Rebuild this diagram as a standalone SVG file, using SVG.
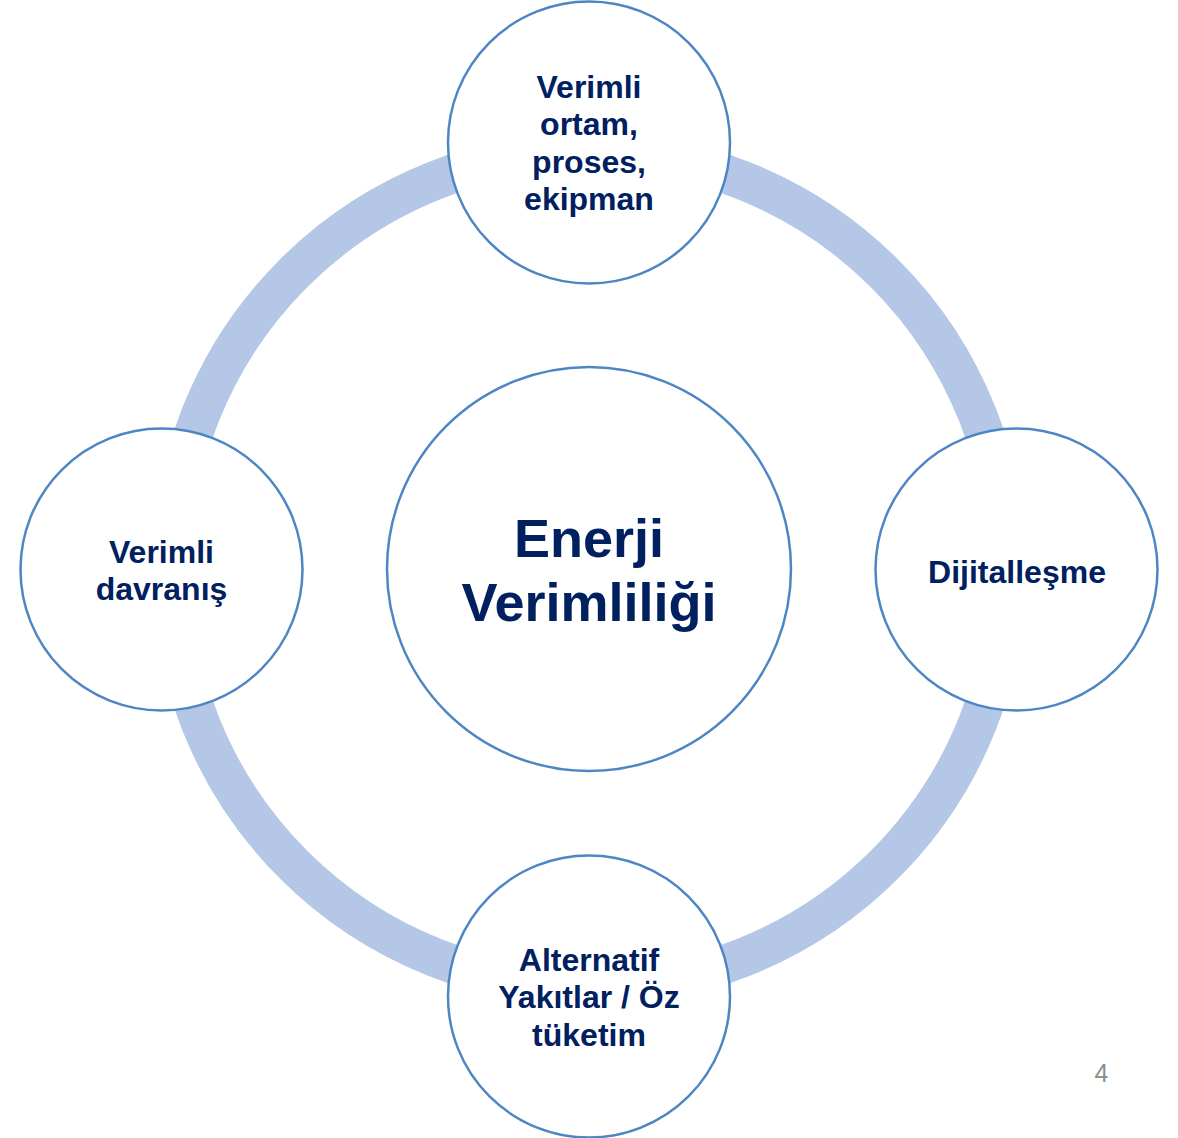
<svg xmlns="http://www.w3.org/2000/svg" width="1178" height="1138" viewBox="0 0 1178 1138">
<style>
.node{fill:#ffffff;stroke:#4d86c3;stroke-width:2.5}
.t{font-family:"Liberation Sans",Arial,sans-serif;font-weight:bold;fill:#002060;text-anchor:middle}
.s{font-size:32px}
.big{font-size:54px}
.pg{font-family:"Liberation Sans",Arial,sans-serif;font-size:25px;fill:#8c8c8c;text-anchor:middle}
</style>
<rect width="1178" height="1138" fill="#ffffff"/>
<g id="connectors">
<circle cx="589" cy="569" r="418" fill="none" stroke="#b4c7e7" stroke-width="39"/>
</g>
<g id="center">
<circle class="node" cx="589" cy="569" r="202"/>
<text class="t big" x="589" y="557">Enerji</text>
<text class="t big" x="589" y="621">Verimliliği</text>
</g>
<g id="top">
<circle class="node" cx="589" cy="142.5" r="141"/>
<text class="t s" x="589" y="98">Verimli</text>
<text class="t s" x="589" y="135">ortam,</text>
<text class="t s" x="589" y="173">proses,</text>
<text class="t s" x="589" y="210">ekipman</text>
</g>
<g id="right">
<circle class="node" cx="1016.5" cy="569.5" r="141"/>
<text class="t s" x="1017" y="583">Dijitalleşme</text>
</g>
<g id="bottom">
<circle class="node" cx="589" cy="996.5" r="141"/>
<text class="t s" x="589" y="971">Alternatif</text>
<text class="t s" x="589" y="1008">Yakıtlar / Öz</text>
<text class="t s" x="589" y="1046">tüketim</text>
</g>
<g id="left">
<circle class="node" cx="161.5" cy="569.5" r="141"/>
<text class="t s" x="161.5" y="563">Verimli</text>
<text class="t s" x="161.5" y="600">davranış</text>
</g>
<text class="pg" x="1101.5" y="1082">4</text>
</svg>
